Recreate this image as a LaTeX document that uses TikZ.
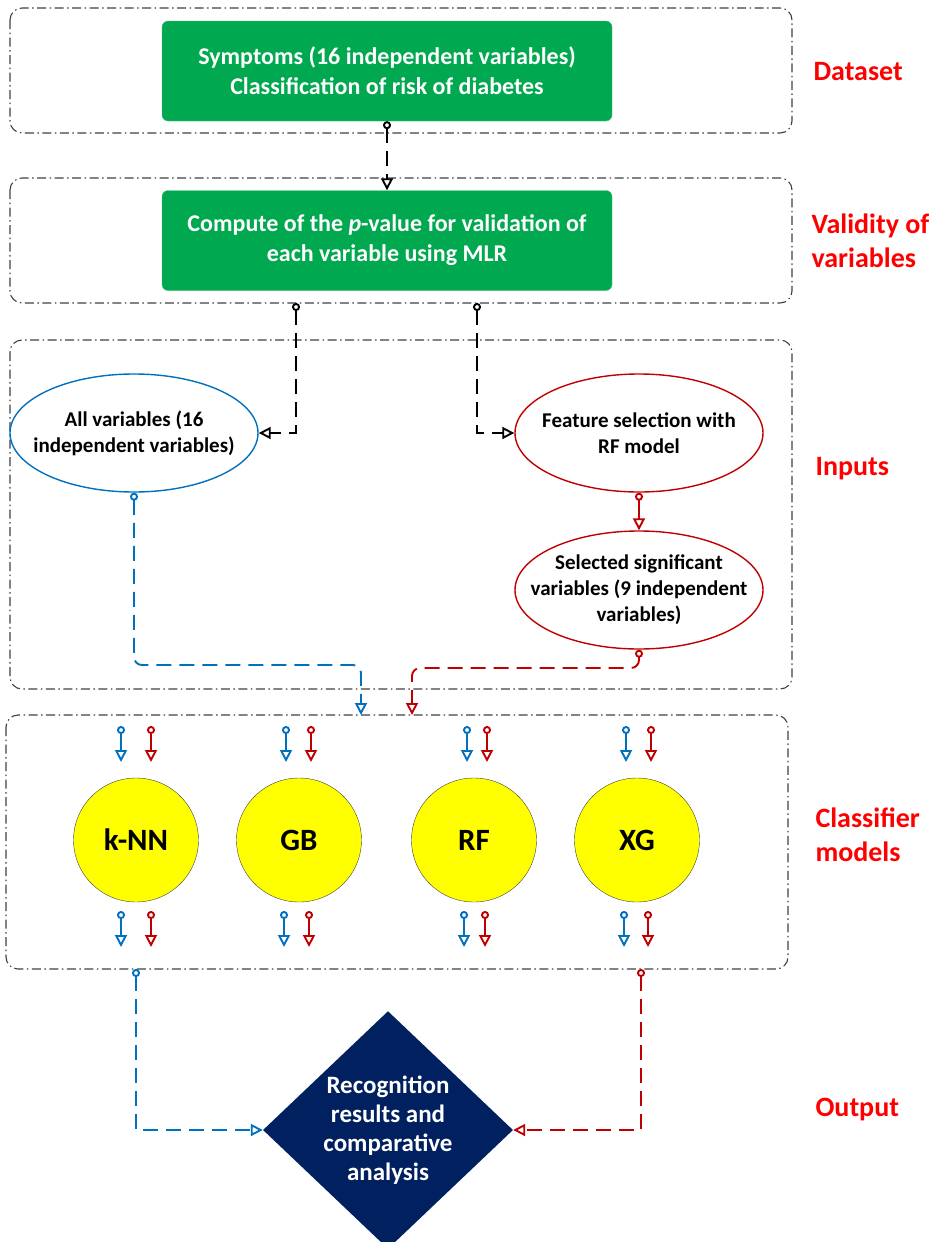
\documentclass[tikz,border=0pt]{standalone}
\usepackage{fontspec}
\setmainfont{Carlito}
\usetikzlibrary{arrows.meta,shapes.geometric,positioning}
\definecolor{leaf}{HTML}{00A84F}
\definecolor{ocean}{HTML}{0070C0}
\definecolor{brick}{HTML}{C00000}
\definecolor{navy}{HTML}{002060}
\definecolor{lemon}{HTML}{FFFF00}
\definecolor{ink}{HTML}{404040}
\tikzset{
  stage/.style={draw=ink,line width=1.1pt,dash pattern=on 9pt off 3.5pt on 1.5pt off 3.5pt,rounded corners=12pt},
  greenbox/.style={fill=leaf,draw=leaf!70!white,rounded corners=6pt,minimum width=450pt,minimum height=100pt,
    text=white,align=center,font=\fontsize{24}{30}\selectfont\bfseries},
  inell/.style={ellipse,line width=1.4pt,fill=white,minimum width=248pt,minimum height=118pt,
    inner xsep=-24pt,inner ysep=-10pt,align=center,font=\fontsize{21}{26}\selectfont\bfseries},
  clf/.style={ellipse,fill=lemon,draw=ink,line width=0.4pt,minimum width=125pt,minimum height=124pt,
    font=\fontsize{31}{33}\selectfont\bfseries},
  lbl/.style={text=red,anchor=west,align=left,font=\fontsize{28}{34}\selectfont\bfseries},
  link/.style={line width=1.9pt,dash pattern=on 15pt off 8pt,
    {Circle[open,length=8pt,width=8pt]}-{Triangle[open,length=12pt,width=12pt]}},
  tick/.style={line width=1.9pt,{Circle[open,length=8pt,width=8pt]}-{Triangle[open,length=12pt,width=12pt]}}
}
\begin{document}
\begin{tikzpicture}[x=1pt,y=-1pt]
\useasboundingbox (0,0) rectangle (936,1242);
% stages
\draw[stage] (10,8) rectangle (792,133);
\draw[stage] (10,178) rectangle (792,303);
\draw[stage] (10,340) rectangle (792,689);
\draw[stage] (6,715) rectangle (788,969);
% dataset and validity
\node[greenbox] (sym) at (387,71) {Symptoms (16 independent variables)\\Classification of risk of diabetes};
\node[greenbox] (pval) at (387,240.5) {Compute of the \textit{p}-value for validation of\\each variable using MLR};
% inputs
\node[inell,draw=ocean] (allvar) at (134,433) {All variables (16\\independent variables)};
\node[inell,draw=brick] (feat) at (639,433) {Feature selection with\\RF model};
\node[inell,draw=brick] (sel) at (639,590) {Selected significant\\variables (9 independent\\variables)};
% classifiers
\node[clf] (knn) at (136,840) {k-NN};
\node[clf] (gb) at (299,840) {GB};
\node[clf] (rf) at (474,840) {RF};
\node[clf] (xg) at (637,840) {XG};
% output
\node[diamond,fill=navy,minimum width=250pt,minimum height=230pt,inner sep=0pt,text=white,align=center,
  font=\fontsize{25}{29}\selectfont\bfseries] (res) at (388,1130) {Recognition\\results and\\comparative\\analysis};
% stage labels
\node[lbl] (l1) at (810,72) {Dataset};
\node[lbl] (l2) at (808,241) {Validity of\\variables};
\node[lbl] (l3) at (812,469) {Inputs};
\node[lbl] (l4) at (812,835) {Classifier\\models};
\node[lbl] (l5) at (812,1110) {Output};
% connectors
\coordinate (vL) at (296,303);
\coordinate (vR) at (477,303);
\coordinate (bturn) at (361,665);
\coordinate (bin) at (361,715);
\coordinate (rturn) at (412,668);
\coordinate (rin) at (412,715);
\coordinate (kout) at (136,969);
\coordinate (xout) at (641,969);
\draw[link] (sym.south) -- (pval.north);
\draw[link] (vL) |- (allvar.east);
\draw[link] (vR) |- (feat.west);
\draw[link,brick,solid] (feat.south) -- (sel.north);
\draw[link,ocean,rounded corners=8pt] (allvar.south) |- (bturn) -- (bin);
\draw[link,brick,rounded corners=8pt] (sel.south) |- (rturn) -- (rin);
\foreach \bx/\rx/\by/\ry in {121/151/121/151, 286/311/284/309, 467/487/464/485, 626/651/624/648} {
  \draw[tick,ocean] (\bx,726) -- (\bx,762);
  \draw[tick,brick] (\rx,726) -- (\rx,762);
  \draw[tick,ocean] (\by,911) -- (\by,947);
  \draw[tick,brick] (\ry,911) -- (\ry,947);
}
\draw[link,ocean] (kout) |- (res.west);
\draw[link,brick] (xout) |- (res.east);
\end{tikzpicture}
\end{document}
